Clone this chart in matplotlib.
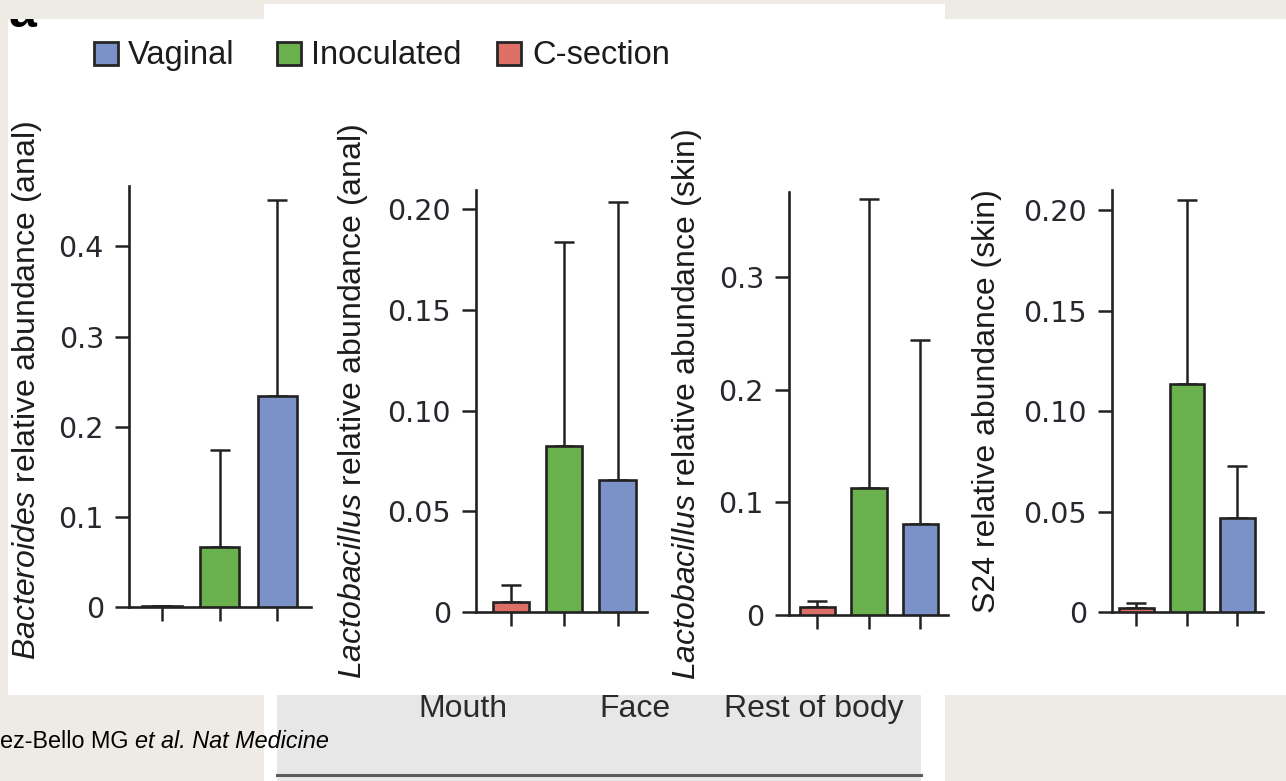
import matplotlib
matplotlib.use('Agg')
import matplotlib.pyplot as plt
from matplotlib.patches import Rectangle
import numpy as np

plt.rcParams['font.family'] = ['Liberation Sans', 'DejaVu Sans']
plt.rcParams['mathtext.fontset'] = 'custom'
plt.rcParams['mathtext.rm'] = 'Liberation Sans'
plt.rcParams['mathtext.it'] = 'Liberation Sans:italic'

W, H = 1286, 781

# groups in bar order, left to right
groups = ['C-section', 'Inoculated', 'Vaginal']
bar_colors = ['#de6f66', '#6ab04c', '#7a92c8']

# legend order
legend_groups = ['Vaginal', 'Inoculated', 'C-section']

# mean and mean + error for each panel
bact_anal_mean = [0.001, 0.067, 0.234]
bact_anal_upper = [0.001, 0.174, 0.452]

lacto_anal_mean = [0.005, 0.0825, 0.0655]
lacto_anal_upper = [0.0135, 0.1835, 0.2035]

lacto_skin_mean = [0.007, 0.113, 0.0805]
lacto_skin_upper = [0.012, 0.369, 0.244]

s24_skin_mean = [0.002, 0.1135, 0.047]
s24_skin_upper = [0.0045, 0.205, 0.0725]

ticks_01 = [0, 0.1, 0.2, 0.3, 0.4]
ticklabels_01 = ['0', '0.1', '0.2', '0.3', '0.4']
ticks_005 = [0, 0.05, 0.10, 0.15, 0.20]
ticklabels_005 = ['0', '0.05', '0.10', '0.15', '0.20']
ticks_skin = [0, 0.1, 0.2, 0.3]
ticklabels_skin = ['0', '0.1', '0.2', '0.3']

ylabels = [r'$\mathit{Bacteroides}$ relative abundance (anal)',
           r'$\mathit{Lactobacillus}$ relative abundance (anal)',
           r'$\mathit{Lactobacillus}$ relative abundance (skin)',
           'S24 relative abundance (skin)']

sites = ['Mouth', 'Face', 'Rest of body']
citation_plain = 'ez-Bello MG '
citation_italic = 'et al. Nat Medicine'

TEXT = '#1c1c1c'


def fig_rect(x0, y0, x1, y1):
    # pixel box (top-left origin) -> figure fraction
    return [x0 / W, 1 - y1 / H, (x1 - x0) / W, (y1 - y0) / H]


fig = plt.figure(figsize=(W / 100, H / 100), dpi=100, facecolor='#eeebe4')


def add_box(x0, y0, x1, y1, color, z):
    l, b, w, h = fig_rect(x0, y0, x1, y1)
    fig.add_artist(Rectangle((l, b), w, h, transform=fig.transFigure,
                             facecolor=color, edgecolor='none', zorder=z))


# page background pieces
add_box(264, 4, 945, 781, 'white', 0.2)
add_box(277, 695, 921, 781, '#e7e7e7', 0.3)
fig.add_artist(plt.Line2D([277 / W, 921 / W], [1 - 775 / H, 1 - 775 / H],
                          transform=fig.transFigure, color='#5c5c5c',
                          lw=2.2, zorder=0.35))
for x, s in zip([463, 635, 814], sites):
    fig.text(x / W, 1 - 717 / H, s, ha='center', va='baseline',
             fontsize=23, color='#2a2a2a', zorder=0.4)
add_box(8, 19, 1286, 695, 'white', 0.5)

# panel letter, cut off by the strip above
fig.text(9 / W, 1 - 27 / H, 'a', fontsize=36, fontweight='bold',
         ha='left', va='baseline', zorder=0.6)
add_box(0, 0, 264, 19, '#eeebe4', 0.7)

cit = fig.text(0, 1 - 748 / H, citation_plain, ha='left', va='baseline',
               fontsize=16.8, color='black', zorder=0.6)
fig.add_artist(plt.Annotation(citation_italic, xy=(1, 0), xycoords=cit,
                              ha='left', va='bottom', fontsize=16.8,
                              fontstyle='italic', color='black',
                              zorder=0.6))

# legend
legend_sq = [94, 277, 497]
legend_tx = [128, 311, 532]
for g, sx, tx in zip(legend_groups, legend_sq, legend_tx):
    c = bar_colors[groups.index(g)]
    l, b, w, h = fig_rect(sx, 42, sx + 24, 65)
    fig.add_artist(Rectangle((l, b), w, h, transform=fig.transFigure,
                             facecolor=c, edgecolor='#262626', lw=2.0,
                             zorder=1))
    fig.text(tx / W, 1 - 64 / H, g, ha='left', va='baseline', fontsize=23.5,
             color=TEXT, zorder=1)

# panel geometry: axes box in pixels, y top value, x limits
panels = [
    dict(box=(129, 186, 311, 607), ytop=0.467, xlim=(-0.574, 2.59),
         mean=bact_anal_mean, upper=bact_anal_upper,
         ticks=ticks_01, labels=ticklabels_01, lab_xy=(27, 390)),
    dict(box=(476, 190, 647, 612), ytop=0.2095, xlim=(-0.657, 2.553),
         mean=lacto_anal_mean, upper=lacto_anal_upper,
         ticks=ticks_005, labels=ticklabels_005, lab_xy=(353, 401)),
    dict(box=(789, 192, 948, 615), ytop=0.3755, xlim=(-0.553, 2.534),
         mean=lacto_skin_mean, upper=lacto_skin_upper,
         ticks=ticks_skin, labels=ticklabels_skin, lab_xy=(687, 404)),
    dict(box=(1112, 190, 1263, 612), ytop=0.21, xlim=(-0.485, 2.505),
         mean=s24_skin_mean, upper=s24_skin_upper,
         ticks=ticks_005, labels=ticklabels_005, lab_xy=(987, 401)),
]

x = np.arange(len(groups))
for p, ylab in zip(panels, ylabels):
    ax = fig.add_axes(fig_rect(*p['box']))
    ax.set_zorder(2)
    ax.patch.set_visible(False)
    mean = np.array(p['mean'])
    upper = np.array(p['upper'])
    ax.bar(x, mean, width=0.68, color=bar_colors, edgecolor='#222222',
           linewidth=1.9, zorder=3)
    ax.errorbar(x, mean, yerr=[np.zeros_like(mean), upper - mean],
                fmt='none', ecolor='#222222', elinewidth=1.8, capsize=7,
                capthick=1.8, zorder=2)
    ax.set_xlim(*p['xlim'])
    ax.set_ylim(0, p['ytop'])
    for side in ['top', 'right']:
        ax.spines[side].set_visible(False)
    for side in ['left', 'bottom']:
        ax.spines[side].set_linewidth(1.9)
        ax.spines[side].set_color('#222222')
    ax.set_xticks(x)
    ax.set_xticklabels([])
    ax.set_yticks(p['ticks'])
    ax.set_yticklabels(p['labels'], fontfamily='DejaVu Sans')
    ax.tick_params(axis='both', direction='out', length=10, width=1.8,
                   color='#222222')
    ax.tick_params(axis='y', labelsize=20.5, labelcolor='#26282e', pad=8)
    lx, ly = p['lab_xy']
    fig.text(lx / W, 1 - ly / H, ylab, rotation=90, ha='center',
             va='center', rotation_mode='anchor', fontsize=23,
             color=TEXT, zorder=1)

fig.savefig('out.png', dpi=100, facecolor=fig.get_facecolor())
